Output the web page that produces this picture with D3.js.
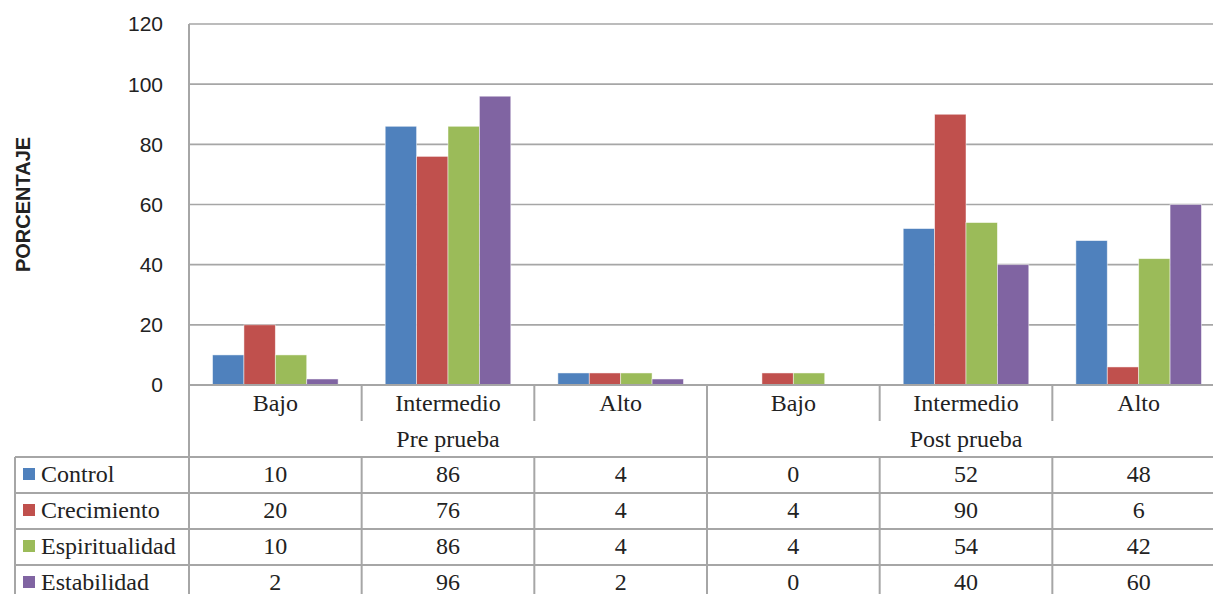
<!DOCTYPE html>
<html>
<head>
<meta charset="utf-8">
<script src="https://d3js.org/d3.v7.min.js"></script>
<style>
    body { margin: 0; background: #fff; }
    svg { display: block; }
    .grid line { stroke: #a6a6a6; stroke-width: 1.6; }
    .cell-line { stroke: #a6a6a6; stroke-width: 2; }
    .tick-label { font-family: "Liberation Sans", "Open Sans", sans-serif; font-size: 21px; fill: #222; }
    .table-text { font-family: "Liberation Serif", "DejaVu Serif", serif; font-size: 24px; fill: #222; }
</style>
</head>
<body>
<svg id="chart"></svg>
<script>
const periods = ["Pre prueba", "Post prueba"];
const levels = ["Bajo", "Intermedio", "Alto"];
const seriesNames = ["Control", "Crecimiento", "Espiritualidad", "Estabilidad"];
const seriesColors = ["#4f81bd", "#c0504d", "#9bbb59", "#8064a2"];
const control = [10, 86, 4, 0, 52, 48];
const crecimiento = [20, 76, 4, 4, 90, 6];
const espiritualidad = [10, 86, 4, 4, 54, 42];
const estabilidad = [2, 96, 2, 0, 40, 60];
const yTicks = [0, 20, 40, 60, 80, 100, 120];

const seriesValues = [control, crecimiento, espiritualidad, estabilidad];
const categories = [];
periods.forEach(p => levels.forEach(l => categories.push({period: p, level: l, key: p + "|" + l})));

const width = 1213, height = 594;
const plotLeft = 189, plotRight = 1225, plotTop = 24, plotBottom = 385;
const tableLeft = 15, rowH = 36;

const svg = d3.select("#chart").attr("width", width).attr("height", height);

const x = d3.scaleBand()
    .domain(categories.map(d => d.key))
    .range([plotLeft, plotRight]);
const xInner = d3.scaleBand()
    .domain(seriesNames)
    .range([0, x.bandwidth()])
    .paddingOuter(0.75);
const y = d3.scaleLinear().domain([0, 120]).range([plotBottom, plotTop]);

// gridlines
svg.append("g")
    .attr("class", "grid")
    .selectAll("line")
    .data(yTicks.filter(t => t > 0))
    .enter()
    .append("line")
    .attr("x1", plotLeft).attr("x2", plotRight)
    .attr("y1", d => y(d)).attr("y2", d => y(d));

// y tick labels
svg.append("g")
    .selectAll("text")
    .data(yTicks)
    .enter()
    .append("text")
    .attr("class", "tick-label")
    .attr("x", 163)
    .attr("y", d => y(d))
    .attr("dy", "0.35em")
    .attr("text-anchor", "end")
    .text(d => d);

svg.append("text")
    .attr("transform", `translate(30,${(plotTop + plotBottom) / 2}) rotate(-90)`)
    .attr("text-anchor", "middle")
    .style("font-family", "'Liberation Sans', sans-serif")
    .style("font-weight", "bold")
    .style("font-size", "20px")
    .style("fill", "#222")
    .text("PORCENTAJE");

// bars
seriesValues.forEach((vals, si) => {
    svg.append("g")
        .selectAll("rect")
        .data(vals)
        .enter()
        .append("rect")
        .attr("x", (d, i) => x(categories[i].key) + xInner(seriesNames[si]))
        .attr("width", xInner.bandwidth())
        .attr("y", d => y(d))
        .attr("height", d => plotBottom - y(d))
        .attr("fill", seriesColors[si])
        .attr("stroke", "#fff")
        .attr("stroke-opacity", 0.6)
        .attr("stroke-width", 0.8);
});

// table lines
const rowTop = plotBottom + 2 * rowH;
const tableBottom = rowTop + seriesNames.length * rowH;
const lines = svg.append("g");
function line(x1, y1, x2, y2){
    lines.append("line").attr("class", "cell-line")
        .attr("x1", x1).attr("y1", y1).attr("x2", x2).attr("y2", y2);
}
line(plotLeft, plotTop, plotLeft, tableBottom);
line(plotLeft, plotBottom, plotRight, plotBottom);
line(tableLeft, rowTop, plotRight, rowTop);
line(tableLeft, rowTop, tableLeft, tableBottom);
for (let r = 1; r < seriesNames.length; r++) {
    line(tableLeft, rowTop + r * rowH, plotRight, rowTop + r * rowH);
}
categories.forEach((c, i) => {
    if (i === 0) return;
    let xs = x(c.key);
    if (c.level === levels[0]) {
        line(xs, plotBottom, xs, tableBottom);
    } else {
        line(xs, plotBottom, xs, plotBottom + rowH);
        line(xs, rowTop, xs, tableBottom);
    }
});

// category labels
svg.append("g")
    .selectAll("text")
    .data(categories)
    .enter()
    .append("text")
    .attr("class", "table-text")
    .attr("x", d => x(d.key) + x.bandwidth() / 2)
    .attr("y", plotBottom + rowH / 2)
    .attr("dy", "0.35em")
    .attr("text-anchor", "middle")
    .text(d => d.level);

svg.append("g")
    .selectAll("text")
    .data(periods)
    .enter()
    .append("text")
    .attr("class", "table-text")
    .attr("x", (p, i) => plotLeft + x.step() * levels.length * (i + 0.5))
    .attr("y", plotBottom + rowH * 1.5)
    .attr("dy", "0.35em")
    .attr("text-anchor", "middle")
    .text(d => d);

// data rows with legend keys
seriesNames.forEach((name, si) => {
    let cy = rowTop + si * rowH + rowH / 2 - 1;
    svg.append("rect")
        .attr("x", 23).attr("y", cy - 6)
        .attr("width", 12).attr("height", 12)
        .attr("fill", seriesColors[si]);
    svg.append("text")
        .attr("class", "table-text")
        .attr("x", 41).attr("y", cy)
        .attr("dy", "0.35em")
        .text(name);
    svg.append("g")
        .selectAll("text")
        .data(seriesValues[si])
        .enter()
        .append("text")
        .attr("class", "table-text")
        .attr("x", (d, i) => x(categories[i].key) + x.bandwidth() / 2)
        .attr("y", cy)
        .attr("dy", "0.35em")
        .attr("text-anchor", "middle")
        .text(d => d);
});
</script>
</body>
</html>
